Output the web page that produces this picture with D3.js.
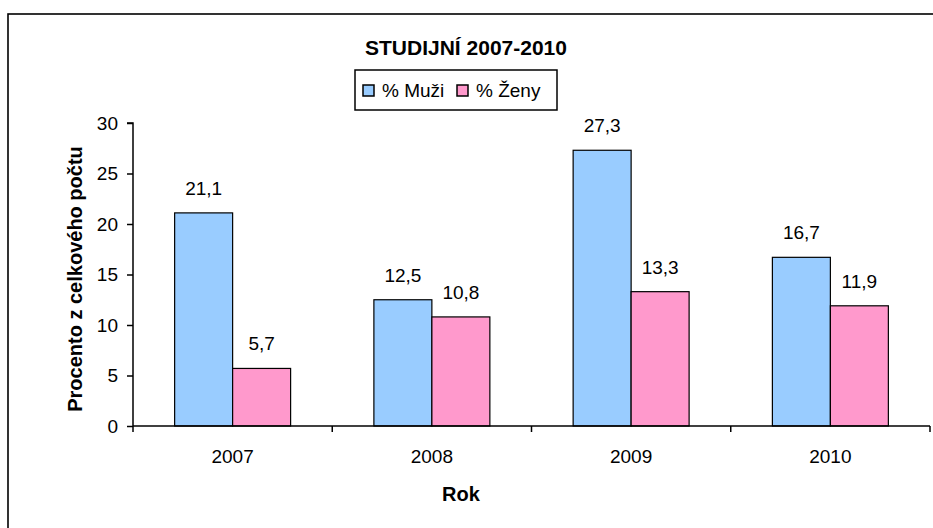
<!DOCTYPE html>
<html>
<head>
<meta charset="utf-8">
<script src="https://cdn.jsdelivr.net/npm/d3@7"></script>
<style>
  html, body { margin: 0; padding: 0; background: #fff; }
  svg { display: block; font-family: "Liberation Sans", Arial, sans-serif; }
</style>
</head>
<body>
<svg id="chart" width="933" height="528"></svg>
<script>
const categories = ["2007", "2008", "2009", "2010"];
const seriesNames = ["% Muži", "% Ženy"];
const muzi = [21.1, 12.5, 27.3, 16.7];
const zeny = [5.7, 10.8, 13.3, 11.9];
const yTicks = [0, 5, 10, 15, 20, 25, 30];
const seriesColors = ["#99CCFF", "#FF99CC"];

(function () {
const svg = d3.select("#chart");
const fmt = v => String(v).replace(".", ",");

// outer frame
svg.append("rect").attr("x", 8).attr("y", 14).attr("width", 1000).attr("height", 600)
  .attr("fill", "none").attr("stroke", "#000").attr("stroke-width", 1.6);

const pLeft = 133, pRight = 930, pTop = 123, pBottom = 426;

const x0 = d3.scaleBand().domain(categories).range([pLeft, pRight]).paddingInner(0).paddingOuter(0);
const x1 = d3.scaleBand().domain(seriesNames).range([0, x0.bandwidth()]).paddingInner(0).paddingOuter(0.718);
const y = d3.scaleLinear().domain([0, 30]).range([pBottom, pTop]);

const data = categories.map((c, i) => ({ cat: c, values: [muzi[i], zeny[i]] }));

// bars
const g = svg.append("g");
data.forEach(d => {
  d.values.forEach((v, j) => {
    const bx = x0(d.cat) + x1(seriesNames[j]);
    g.append("rect")
      .attr("x", bx).attr("y", y(v))
      .attr("width", x1.bandwidth()).attr("height", y(0) - y(v))
      .attr("fill", seriesColors[j]).attr("stroke", "#000").attr("stroke-width", 1.2);
    g.append("text")
      .attr("x", bx + x1.bandwidth() / 2).attr("y", y(v) - 18)
      .attr("text-anchor", "middle").attr("font-size", 19).attr("fill", "#000")
      .text(fmt(v));
  });
});

// y axis
const yAxis = d3.axisLeft(y).tickValues(yTicks).tickSize(6).tickPadding(9).tickFormat(d3.format("d"));
const ya = svg.append("g").attr("transform", `translate(${pLeft},0)`).call(yAxis);
ya.select(".domain").attr("stroke", "#000").attr("stroke-width", 1.5).attr("d", `M-6,${pTop}H0V${pBottom}`);
ya.selectAll(".tick line").attr("stroke", "#000").attr("stroke-width", 1.5);
ya.selectAll("text").attr("font-size", 19).attr("fill", "#000").attr("font-family", "Liberation Sans, Arial, sans-serif");

// x axis
const xa = svg.append("g").attr("transform", `translate(0,${pBottom})`);
xa.append("line").attr("x1", pLeft).attr("x2", pRight).attr("y1", 0).attr("y2", 0)
  .attr("stroke", "#000").attr("stroke-width", 1.5);
const bounds = categories.map(c => x0(c)).concat([pRight]);
xa.selectAll("line.tk").data(bounds).enter().append("line").attr("class", "tk")
  .attr("x1", d => d).attr("x2", d => d).attr("y1", 0).attr("y2", 6)
  .attr("stroke", "#000").attr("stroke-width", 1.5);
xa.selectAll("text.cl").data(categories).enter().append("text").attr("class", "cl")
  .attr("x", d => x0(d) + x0.bandwidth() / 2).attr("y", 37)
  .attr("text-anchor", "middle").attr("font-size", 19).attr("fill", "#000").text(d => d);

// titles
svg.append("text").attr("x", 466).attr("y", 55).attr("text-anchor", "middle")
  .attr("font-size", 21).attr("font-weight", "bold").text("STUDIJNÍ 2007-2010");
svg.append("text").attr("x", 461).attr("y", 501).attr("text-anchor", "middle")
  .attr("font-size", 20).attr("font-weight", "bold").text("Rok");
svg.append("text").attr("transform", "translate(82,279) rotate(-90)").attr("text-anchor", "middle")
  .attr("font-size", 20).attr("font-weight", "bold").text("Procento z celkového počtu");

// legend
const lg = svg.append("g");
lg.append("rect").attr("x", 355).attr("y", 70).attr("width", 202).attr("height", 40)
  .attr("fill", "#fff").attr("stroke", "#000").attr("stroke-width", 1.5);
const legX = [363, 457];
seriesNames.forEach((s, j) => {
  lg.append("rect").attr("x", legX[j]).attr("y", 85).attr("width", 11).attr("height", 11)
    .attr("fill", seriesColors[j]).attr("stroke", "#000").attr("stroke-width", 1.5);
  lg.append("text").attr("x", legX[j] + 19).attr("y", 97).attr("font-size", 19).text(s);
});
})();
</script>
</body>
</html>
